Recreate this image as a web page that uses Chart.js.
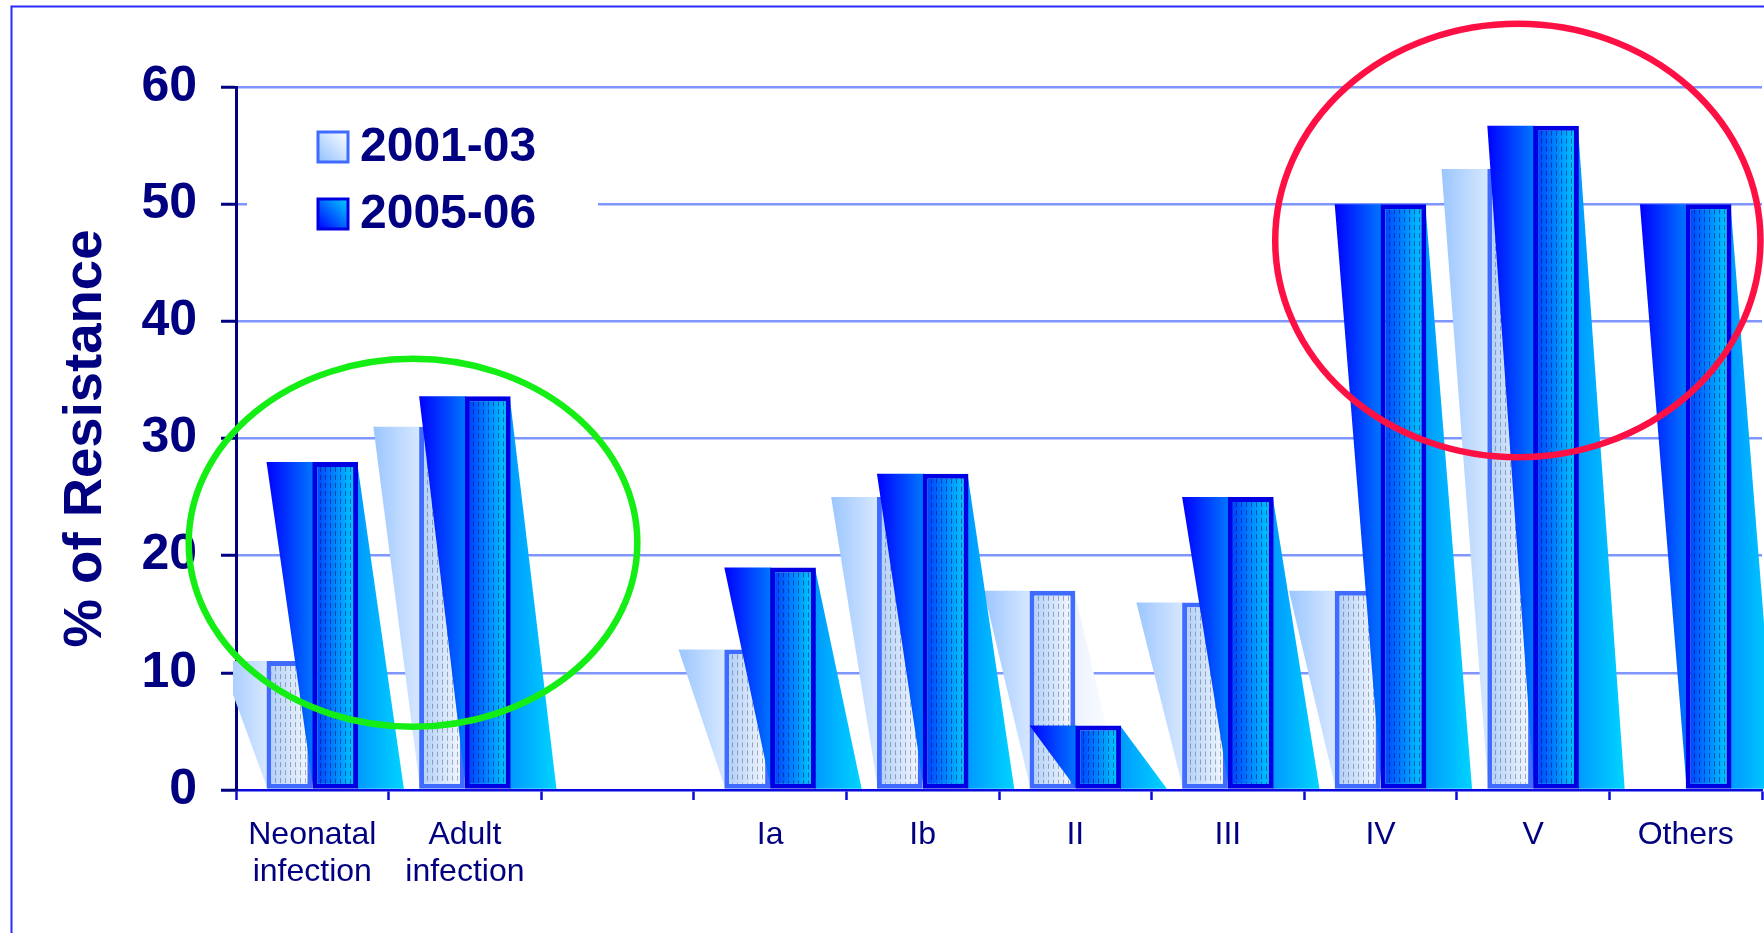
<!DOCTYPE html>
<html>
<head>
<meta charset="utf-8">
<title>% of Resistance</title>
<script src="https://cdn.jsdelivr.net/npm/chart.js@4.4.1/dist/chart.umd.min.js"></script>
<style>
  html, body { margin: 0; padding: 0; background: #ffffff; }
  #wrap { width: 1764px; height: 933px; position: relative; }
  canvas { display: block; }
</style>
</head>
<body>
<div id="wrap"><canvas id="chart" width="1764" height="933"></canvas></div>
<script>
// ---- data ----
const categories = [['Neonatal', 'infection'], ['Adult', 'infection'], '', 'Ia', 'Ib', 'II', 'III', 'IV', 'V', 'Others'];
const resistance2001 = [11, 31, null, 12, 25, 17, 16, 17, 53, null];
const resistance2005 = [28, 33.6, null, 19, 27, 5.5, 25, 50, 56.7, 50];
const seriesNames = ['2001-03', '2005-06'];
const yTickValues = [0, 10, 20, 30, 40, 50, 60];

// ---- look ----
const FONT = "'Liberation Sans', Arial, Helvetica, sans-serif";
const NAVY = '#000080';
const AXIS_BLUE = '#0a0ae0';
const GRID = '#7f95ff';

const seriesLooks = [
  { face: '#cfe2fb', faceGrad: ['#b4d1f8', '#f0f6ff'], leftShade: ['#9bc6ff', '#d6e7ff'],
    rightShade: ['#edf3ff', '#ffffff'], border: '#3f6bff', borderWidth: 5, dash: 'rgba(70,80,110,0.45)' },
  { face: '#0080ff', faceGrad: ['#0046ff', '#00c4ff'], leftShade: ['#0000ff', '#0074ff'],
    rightShade: ['#009aff', '#00d4ff'], border: '#0000e2', borderWidth: 5, dash: 'rgba(0,0,70,0.45)' }
];

// highlight rings, in category-index / value units
const highlightRings = [
  { cx: 0.66, cy: 21.1, rx: 1.47, ry: 15.7, color: '#14ee14' },
  { cx: 7.9, cy: 46.9, rx: 1.59, ry: 18.5, color: '#ff1044' }
];

function barGeom(el) {
  const p = el.getProps(['x', 'y', 'base', 'width'], true);
  return { L: p.x - p.width / 2, R: p.x + p.width / 2, top: Math.min(p.y, p.base), base: Math.max(p.y, p.base), w: p.width };
}
function hGrad(ctx, x0, x1, c0, c1) {
  const g = ctx.createLinearGradient(x0, 0, x1, 0);
  g.addColorStop(0, c0); g.addColorStop(1, c1);
  return g;
}
function hasValue(meta, i) {
  const v = meta.controller.getParsed(i);
  return v && v.y !== null && v.y !== undefined && !isNaN(v.y);
}

// slanted side shades of each bar
function drawShades(chart, meta) {
  const ctx = chart.ctx, look = seriesLooks[meta.index], area = chart.chartArea;
  ctx.save();
  ctx.beginPath(); ctx.rect(area.left - 3, 0, chart.width, area.bottom); ctx.clip();
  meta.data.forEach((el, i) => {
    if (!hasValue(meta, i)) return;
    const b = barGeom(el);
    ctx.fillStyle = hGrad(ctx, b.L - b.w, b.L, look.leftShade[0], look.leftShade[1]);
    ctx.beginPath();
    ctx.moveTo(b.L - b.w, b.top); ctx.lineTo(b.L + 1, b.top); ctx.lineTo(b.L + 1, b.base); ctx.closePath();
    ctx.fill();
    ctx.fillStyle = hGrad(ctx, b.R, b.R + b.w, look.rightShade[0], look.rightShade[1]);
    ctx.beginPath();
    ctx.moveTo(b.R - 1, b.top); ctx.lineTo(b.R + b.w, b.base); ctx.lineTo(b.R - 1, b.base); ctx.closePath();
    ctx.fill();
  });
  ctx.restore();
}

// gradient + dashed texture on the front face of each bar
function drawFaces(chart, meta) {
  const ctx = chart.ctx, look = seriesLooks[meta.index], bw = look.borderWidth;
  meta.data.forEach((el, i) => {
    if (!hasValue(meta, i)) return;
    const b = barGeom(el);
    const x0 = b.L + bw, x1 = b.R - bw, y0 = b.top + bw, y1 = b.base - bw;
    if (x1 <= x0 || y1 <= y0) return;
    ctx.save();
    ctx.beginPath(); ctx.rect(x0, y0, x1 - x0, y1 - y0); ctx.clip();
    ctx.fillStyle = hGrad(ctx, x0, x1, look.faceGrad[0], look.faceGrad[1]);
    ctx.fillRect(x0, y0, x1 - x0, y1 - y0);
    ctx.strokeStyle = look.dash; ctx.lineWidth = 1; ctx.setLineDash([5, 3]);
    for (let x = x0 + 3; x < x1; x += 5) {
      ctx.beginPath(); ctx.moveTo(Math.round(x) + 0.5, y0); ctx.lineTo(Math.round(x) + 0.5, y1); ctx.stroke();
    }
    ctx.restore();
  });
}

const layeredBars = {
  id: 'layeredBars',
  beforeDraw(chart) {
    const ctx = chart.ctx;
    ctx.save(); ctx.fillStyle = '#ffffff'; ctx.fillRect(0, 0, chart.width, chart.height); ctx.restore();
  },
  // draw the series left to right so each later series sits in front
  beforeDatasetsDraw(chart) {
    const metas = chart.getSortedVisibleDatasetMetas().slice().sort((a, b) => a.index - b.index);
    metas.forEach(meta => {
      drawShades(chart, meta);
      meta.controller.draw();
      drawFaces(chart, meta);
    });
    return false;
  },
  afterDraw(chart) {
    const ctx = chart.ctx, xs = chart.scales.x, ys = chart.scales.y;
    // highlight rings
    const unitX = xs.getPixelForValue(1) - xs.getPixelForValue(0);
    const unitY = ys.getPixelForValue(0) - ys.getPixelForValue(1);
    ctx.save();
    highlightRings.forEach(r => {
      ctx.beginPath();
      ctx.ellipse(xs.getPixelForValue(r.cx), ys.getPixelForValue(r.cy), r.rx * unitX, r.ry * unitY, 0, 0, Math.PI * 2);
      ctx.strokeStyle = r.color; ctx.lineWidth = 6.5; ctx.stroke();
    });
    ctx.restore();

    // legend box
    ctx.save();
    ctx.fillStyle = '#ffffff';
    ctx.fillRect(247, 108, 351, 132);
    const rows = [147, 214];
    chart.data.datasets.forEach((ds, i) => {
      const look = seriesLooks[i];
      const sx = 318, sy = rows[i] - 15, s = 30;
      const g = ctx.createLinearGradient(sx, sy + s, sx + s, sy);
      if (i === 0) { g.addColorStop(0, '#8fc0ff'); g.addColorStop(1, '#ffffff'); }
      else { g.addColorStop(0, '#0000ff'); g.addColorStop(1, '#00d0ff'); }
      ctx.fillStyle = g; ctx.fillRect(sx, sy, s, s);
      ctx.strokeStyle = look.border; ctx.lineWidth = 3; ctx.strokeRect(sx, sy, s, s);
      ctx.fillStyle = NAVY; ctx.font = 'bold 48px ' + FONT;
      ctx.textAlign = 'left'; ctx.textBaseline = 'middle';
      ctx.fillText(ds.label, 360, rows[i] + 1);
    });
    ctx.restore();

    // outer frame
    ctx.save();
    ctx.strokeStyle = '#2b2bff'; ctx.lineWidth = 2;
    ctx.beginPath(); ctx.moveTo(11.5, chart.height); ctx.lineTo(11.5, 6.5); ctx.lineTo(chart.width, 6.5); ctx.stroke();
    ctx.restore();
  }
};

new Chart(document.getElementById('chart'), {
  type: 'bar',
  data: {
    labels: categories,
    datasets: [
      { label: seriesNames[0], data: resistance2001, backgroundColor: seriesLooks[0].face,
        borderColor: seriesLooks[0].border, borderWidth: seriesLooks[0].borderWidth, borderSkipped: false,
        categoryPercentage: 0.6, barPercentage: 1.0 },
      { label: seriesNames[1], data: resistance2005, backgroundColor: seriesLooks[1].face,
        borderColor: seriesLooks[1].border, borderWidth: seriesLooks[1].borderWidth, borderSkipped: false,
        categoryPercentage: 0.6, barPercentage: 1.0 }
    ]
  },
  options: {
    responsive: false,
    animation: false,
    layout: { padding: { top: 87, right: 2, left: 0, bottom: 0 } },
    plugins: { legend: { display: false }, tooltip: { enabled: false }, title: { display: false } },
    scales: {
      x: {
        afterFit: s => { s.height = 143; },
        grid: { drawOnChartArea: false, drawTicks: true, tickLength: 10, tickColor: AXIS_BLUE, tickWidth: 2.5 },
        border: { color: AXIS_BLUE, width: 2.5 },
        ticks: { color: NAVY, font: { family: FONT, size: 32, lineHeight: 1.15 }, padding: 17,
                 maxRotation: 0, autoSkip: false }
      },
      y: {
        min: 0, max: 60,
        afterFit: s => { s.width = 236; },
        afterBuildTicks: s => { s.ticks = yTickValues.map(v => ({ value: v })); },
        grid: { color: c => (c.tick && c.tick.value === 0) ? 'rgba(0,0,0,0)' : GRID, lineWidth: 2.5,
                drawTicks: true, tickLength: 15, tickColor: NAVY, tickWidth: 3 },
        border: { color: NAVY, width: 3 },
        ticks: { color: NAVY, font: { family: FONT, size: 50, weight: 'bold' }, padding: 24 },
        title: { display: true, text: '% of Resistance', color: NAVY,
                 font: { family: FONT, size: 54.5, weight: 'bold' }, padding: { top: 53, bottom: 0 } }
      }
    }
  },
  plugins: [layeredBars]
});
</script>
</body>
</html>
